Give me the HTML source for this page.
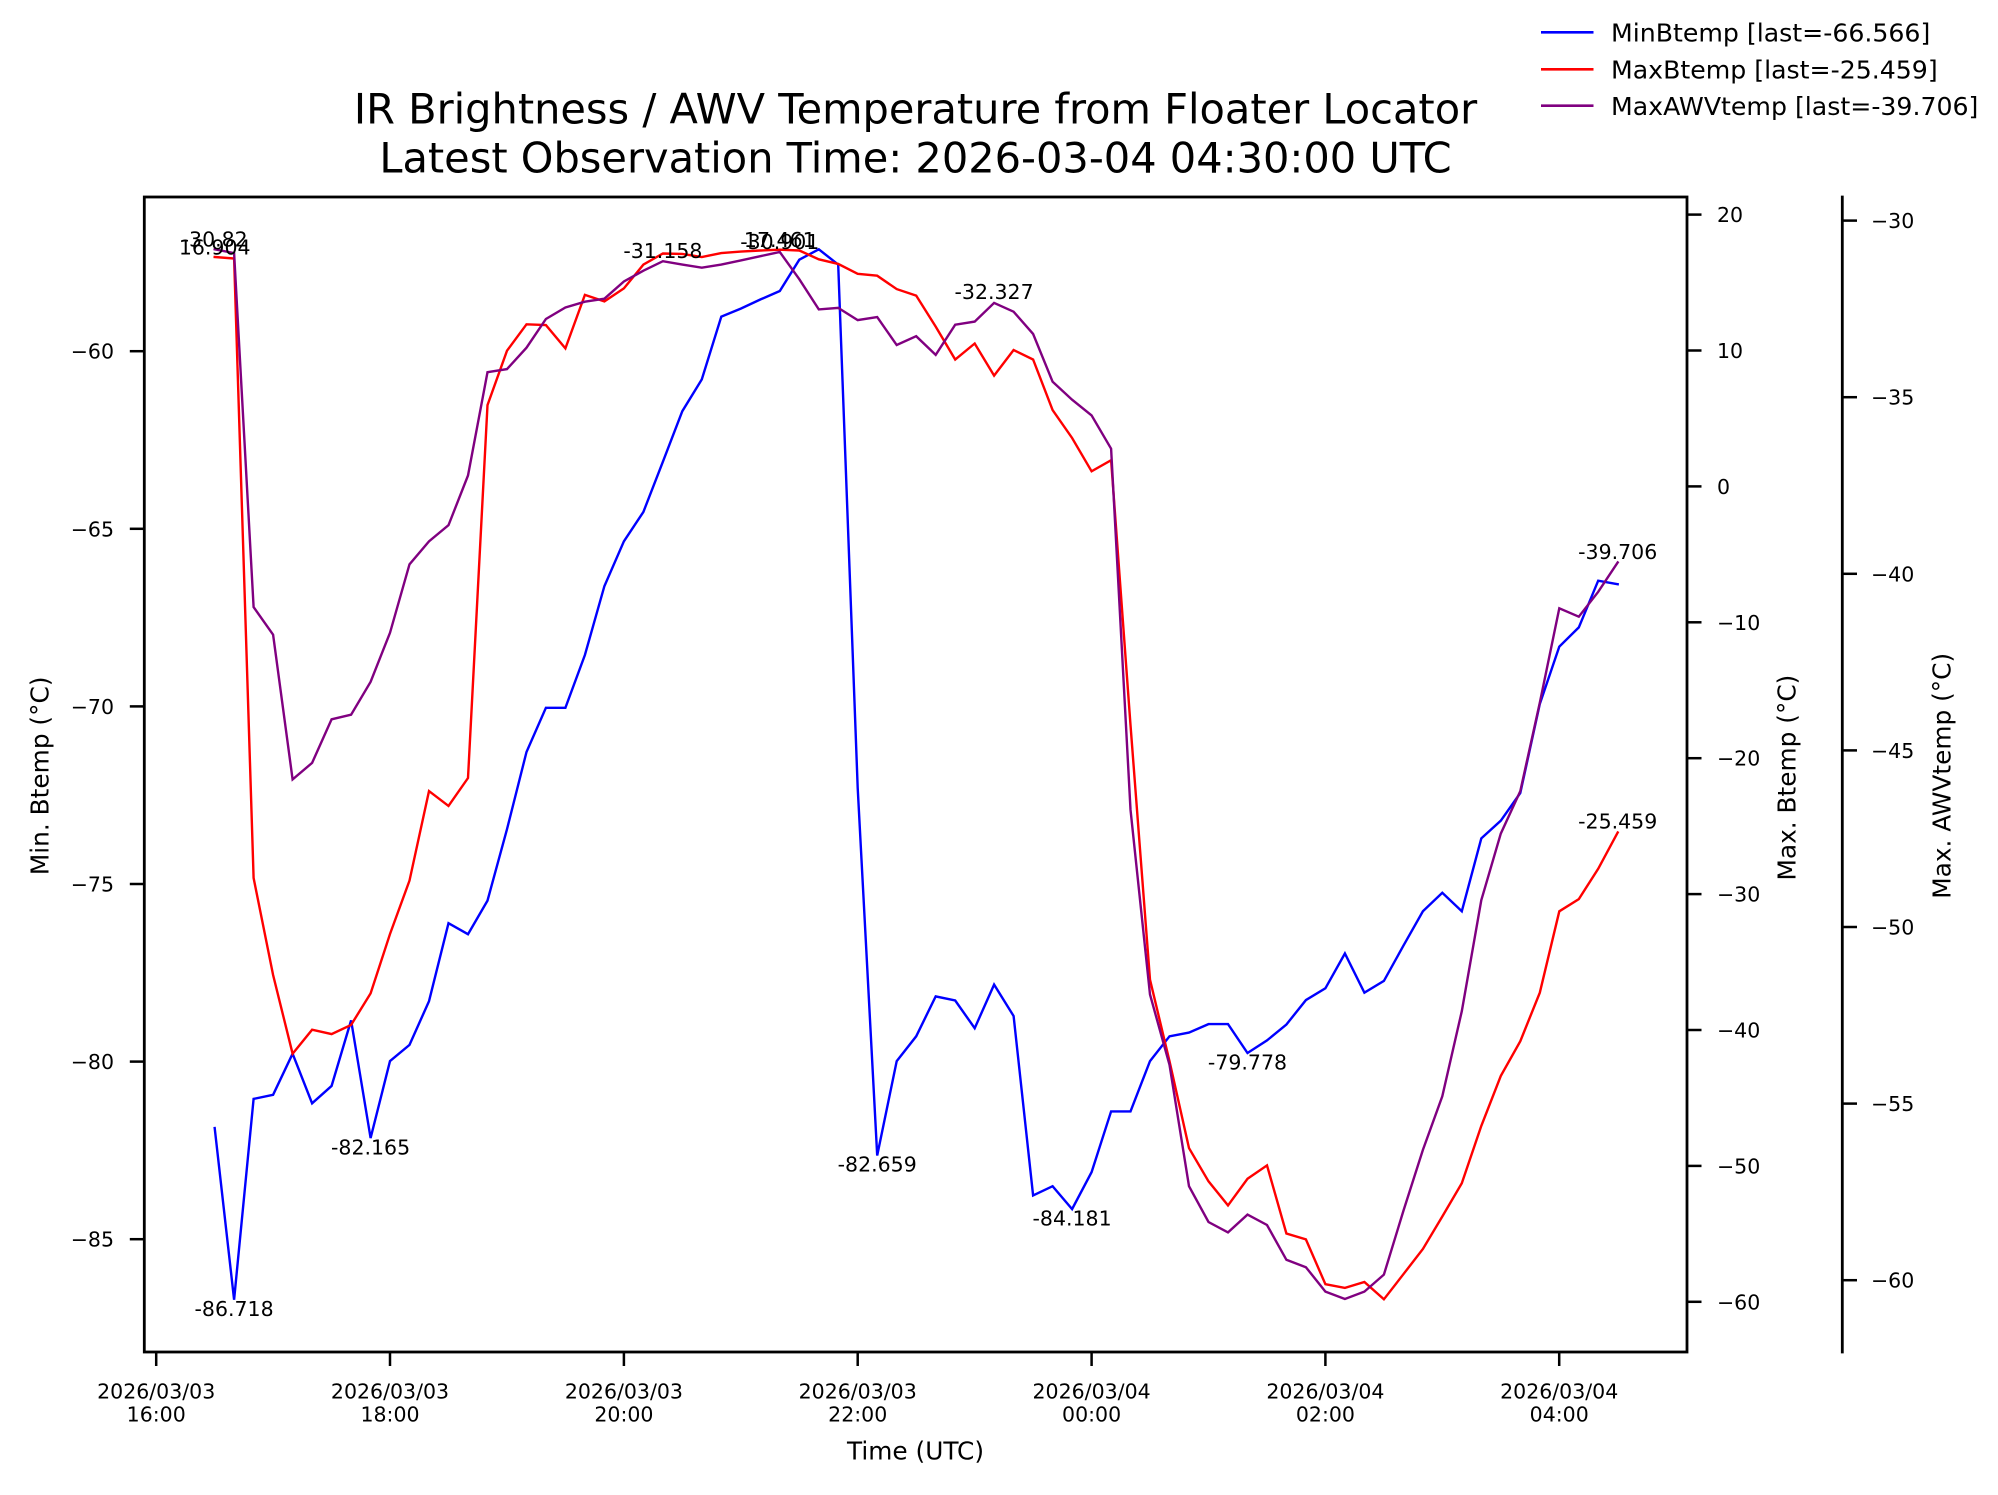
<!DOCTYPE html>
<html><head><meta charset="utf-8"><style>
html,body{margin:0;padding:0;background:#fff;}
svg{display:block;}
text{font-family:"DejaVu Sans","Liberation Sans",sans-serif;fill:#000;}
</style></head><body>
<svg width="1998" height="1495" viewBox="0 0 1998 1495" xmlns="http://www.w3.org/2000/svg">
<rect x="0" y="0" width="1998" height="1495" fill="#fff"/>

<!-- Title -->
<text x="915.5" y="123.3" font-size="41.5" text-anchor="middle">IR Brightness / AWV Temperature from Floater Locator</text>
<text x="915.5" y="172.3" font-size="41.5" text-anchor="middle">Latest Observation Time: 2026-03-04 04:30:00 UTC</text>

<!-- Legend -->
<g stroke-width="2.6" fill="none">
<line x1="1541" y1="32.3" x2="1593.5" y2="32.3" stroke="#0000ff"/>
<line x1="1541" y1="69.3" x2="1593.5" y2="69.3" stroke="#ff0000"/>
<line x1="1541" y1="105.7" x2="1593.5" y2="105.7" stroke="#800080"/>
</g>
<g font-size="25.2">
<text x="1611" y="41.6">MinBtemp [last=-66.566]</text>
<text x="1611" y="78.6">MaxBtemp [last=-25.459]</text>
<text x="1611" y="115.0">MaxAWVtemp [last=-39.706]</text>
</g>

<!-- Series -->
<g fill="none" stroke-width="2.4" stroke-linejoin="miter" stroke-linecap="square">
<polyline stroke="#0000ff" points="214.7,1128.1 234.1,1299.7 253.6,1098.9 273.1,1094.8 292.6,1053.7 312.1,1103.3 331.6,1085.9 351.1,1020.4 370.6,1138.1 390.0,1061.1 409.5,1044.9 429.0,1001.2 448.5,923.2 468.0,934.2 487.5,900.6 507.0,829.2 526.5,752 545.9,707.8 565.4,707.8 584.9,655 604.4,586.1 623.9,541.3 643.4,511.9 662.9,461.7 682.3,411.2 701.8,379.4 721.3,316.7 740.8,308.6 760.3,299.5 779.8,291 799.3,259.7 818.8,249.3 838.2,264.6 857.7,788 877.2,1155.5 896.7,1061.1 916.2,1036.3 935.7,996.4 955.2,1000.5 974.7,1028.2 994.1,984.6 1013.6,1016 1033.1,1195.4 1052.6,1186.2 1072.1,1209.1 1091.6,1172.1 1111.1,1111.4 1130.5,1111.4 1150.0,1061.1 1169.5,1036.3 1189.0,1032.6 1208.5,1024.1 1228.0,1024.1 1247.5,1053 1267.0,1040.4 1286.4,1024.5 1305.9,1000.1 1325.4,988.3 1344.9,953.5 1364.4,992.7 1383.9,980.9 1403.4,945.7 1422.9,911.3 1442.3,892.8 1461.8,911.3 1481.3,838.4 1500.8,820.7 1520.3,793 1539.8,704 1559.3,646.6 1578.8,627.4 1598.2,580.7 1617.7,584.2"/>
<polyline stroke="#ff0000" points="214.7,257.0 234.1,258.5 253.6,878 273.1,975 292.6,1053.7 312.1,1029.7 331.6,1034.1 351.1,1024.9 370.6,993.4 390.0,934 409.5,880.6 429.0,791.1 448.5,805.9 468.0,778 487.5,405.1 507.0,350.7 526.5,324.3 545.9,325.1 565.4,348.4 584.9,294.9 604.4,301.4 623.9,288.4 643.4,264.6 662.9,253.5 682.3,253.9 701.8,257 721.3,253.1 740.8,251.6 760.3,250.5 779.8,249.7 799.3,250.5 818.8,259.3 838.2,263.9 857.7,273.8 877.2,275.7 896.7,289.1 916.2,295.6 935.7,326.6 955.2,359.5 974.7,343.5 994.1,375.6 1013.6,350 1033.1,359.5 1052.6,410 1072.1,438 1091.6,471.3 1111.1,460.2 1130.5,725 1150.0,979.7 1169.5,1061.1 1189.0,1148.1 1208.5,1181.3 1228.0,1205.4 1247.5,1178.8 1267.0,1165.4 1286.4,1233.5 1305.9,1239.4 1325.4,1284.2 1344.9,1287.9 1364.4,1282 1383.9,1299.3 1403.4,1274.2 1422.9,1249 1442.3,1216.5 1461.8,1183.2 1481.3,1125.9 1500.8,1075.9 1520.3,1041.2 1539.8,992.7 1559.3,911.3 1578.8,899.1 1598.2,868.8 1617.7,832.5"/>
<polyline stroke="#800080" points="214.7,249.3 234.1,253.1 253.6,607.1 273.1,634.7 292.6,779.4 312.1,762.9 331.6,719.3 351.1,714.7 370.6,681.8 390.0,632.8 409.5,564.3 429.0,541.3 448.5,525.2 468.0,475.5 487.5,372.2 507.0,369.1 526.5,347.7 545.9,319 565.4,307.5 584.9,301.7 604.4,298.7 623.9,281.5 643.4,270.7 662.9,261.2 682.3,264.6 701.8,267.7 721.3,264.6 740.8,260.4 760.3,256.2 779.8,252 799.3,279.2 818.8,309.4 838.2,307.9 857.7,320.1 877.2,317.1 896.7,345 916.2,336.2 935.7,354.9 955.2,324.7 974.7,321.6 994.1,302.9 1013.6,311.7 1033.1,333.9 1052.6,381.7 1072.1,399.7 1091.6,415.4 1111.1,448.7 1130.5,809.6 1150.0,994.5 1169.5,1064.8 1189.0,1186.2 1208.5,1222 1228.0,1232.4 1247.5,1214.6 1267.0,1225 1286.4,1259.8 1305.9,1267.2 1325.4,1291.6 1344.9,1299 1364.4,1291.6 1383.9,1274.6 1403.4,1210.9 1422.9,1149.9 1442.3,1096.3 1461.8,1011.2 1481.3,900.2 1500.8,833.6 1520.3,791.1 1539.8,702.8 1559.3,608.3 1578.8,616.7 1598.2,591.8 1617.7,562.4"/>
</g>

<!-- Annotations -->
<g font-size="20.5" text-anchor="middle">
<text x="214.7" y="246.5">-30.82</text>
<text x="214.7" y="254.3">16.904</text>
<text x="662.9" y="258">-31.158</text>
<text x="779.8" y="247">17.461</text>
<text x="779.8" y="249">-30.901</text>
<text x="994.1" y="299">-32.327</text>
<text x="1617.7" y="559">-39.706</text>
<text x="1617.7" y="828.5">-25.459</text>
<text x="370.6" y="1154.3">-82.165</text>
<text x="234.1" y="1315.8">-86.718</text>
<text x="877.2" y="1171.5">-82.659</text>
<text x="1072.1" y="1225.5">-84.181</text>
<text x="1247.5" y="1069.5">-79.778</text>
</g>

<!-- Axes frame -->
<rect x="144.3" y="197" width="1542.7" height="1155" fill="none" stroke="#000" stroke-width="2.8"/>
<line x1="1842.3" y1="195.6" x2="1842.3" y2="1353.4" stroke="#000" stroke-width="2.8"/>

<!-- Ticks -->
<g stroke="#000" stroke-width="2.5">
<line x1="156.2" y1="1352" x2="156.2" y2="1366"/>
<line x1="390.0" y1="1352" x2="390.0" y2="1366"/>
<line x1="623.9" y1="1352" x2="623.9" y2="1366"/>
<line x1="857.7" y1="1352" x2="857.7" y2="1366"/>
<line x1="1091.6" y1="1352" x2="1091.6" y2="1366"/>
<line x1="1325.4" y1="1352" x2="1325.4" y2="1366"/>
<line x1="1559.2" y1="1352" x2="1559.2" y2="1366"/>
<line x1="129.8" y1="351.2" x2="144.3" y2="351.2"/>
<line x1="129.8" y1="528.8" x2="144.3" y2="528.8"/>
<line x1="129.8" y1="706.4" x2="144.3" y2="706.4"/>
<line x1="129.8" y1="884.0" x2="144.3" y2="884.0"/>
<line x1="129.8" y1="1061.6" x2="144.3" y2="1061.6"/>
<line x1="129.8" y1="1239.2" x2="144.3" y2="1239.2"/>
<line x1="1687" y1="214.6" x2="1701.5" y2="214.6"/>
<line x1="1687" y1="350.5" x2="1701.5" y2="350.5"/>
<line x1="1687" y1="486.4" x2="1701.5" y2="486.4"/>
<line x1="1687" y1="622.3" x2="1701.5" y2="622.3"/>
<line x1="1687" y1="758.2" x2="1701.5" y2="758.2"/>
<line x1="1687" y1="894.1" x2="1701.5" y2="894.1"/>
<line x1="1687" y1="1030.0" x2="1701.5" y2="1030.0"/>
<line x1="1687" y1="1165.9" x2="1701.5" y2="1165.9"/>
<line x1="1687" y1="1301.8" x2="1701.5" y2="1301.8"/>
<line x1="1842.3" y1="220.6" x2="1857" y2="220.6"/>
<line x1="1842.3" y1="397.2" x2="1857" y2="397.2"/>
<line x1="1842.3" y1="573.8" x2="1857" y2="573.8"/>
<line x1="1842.3" y1="750.4" x2="1857" y2="750.4"/>
<line x1="1842.3" y1="927.0" x2="1857" y2="927.0"/>
<line x1="1842.3" y1="1103.6" x2="1857" y2="1103.6"/>
<line x1="1842.3" y1="1280.2" x2="1857" y2="1280.2"/>
</g>

<!-- Tick labels -->
<g font-size="20.5" text-anchor="middle">
<text x="156.2" y="1398.3">2026/03/03</text><text x="156.2" y="1421.7">16:00</text>
<text x="390.0" y="1398.3">2026/03/03</text><text x="390.0" y="1421.7">18:00</text>
<text x="623.9" y="1398.3">2026/03/03</text><text x="623.9" y="1421.7">20:00</text>
<text x="857.7" y="1398.3">2026/03/03</text><text x="857.7" y="1421.7">22:00</text>
<text x="1091.6" y="1398.3">2026/03/04</text><text x="1091.6" y="1421.7">00:00</text>
<text x="1325.4" y="1398.3">2026/03/04</text><text x="1325.4" y="1421.7">02:00</text>
<text x="1559.2" y="1398.3">2026/03/04</text><text x="1559.2" y="1421.7">04:00</text>
</g>
<g font-size="20.5" text-anchor="end">
<text x="114" y="358.7">−60</text>
<text x="114" y="536.3">−65</text>
<text x="114" y="713.9">−70</text>
<text x="114" y="891.5">−75</text>
<text x="114" y="1069.1">−80</text>
<text x="114" y="1246.7">−85</text>
</g>
<g font-size="20.5" text-anchor="start">
<text x="1717" y="222.1">20</text>
<text x="1717" y="358.0">10</text>
<text x="1717" y="493.9">0</text>
<text x="1717" y="629.8">−10</text>
<text x="1717" y="765.7">−20</text>
<text x="1717" y="901.6">−30</text>
<text x="1717" y="1037.5">−40</text>
<text x="1717" y="1173.4">−50</text>
<text x="1717" y="1309.3">−60</text>
<text x="1871" y="228.1">−30</text>
<text x="1871" y="404.7">−35</text>
<text x="1871" y="581.3">−40</text>
<text x="1871" y="757.9">−45</text>
<text x="1871" y="934.5">−50</text>
<text x="1871" y="1111.1">−55</text>
<text x="1871" y="1287.7">−60</text>
</g>

<!-- Axis labels -->
<g font-size="24.8" text-anchor="middle">
<text x="915.5" y="1459.5">Time (UTC)</text>
<text transform="translate(48.5,775.8) rotate(-90)">Min. Btemp (°C)</text>
<text transform="translate(1795.5,777.6) rotate(-90)">Max. Btemp (°C)</text>
<text transform="translate(1950.5,775.8) rotate(-90)">Max. AWVtemp (°C)</text>
</g>
</svg>
</body></html>
